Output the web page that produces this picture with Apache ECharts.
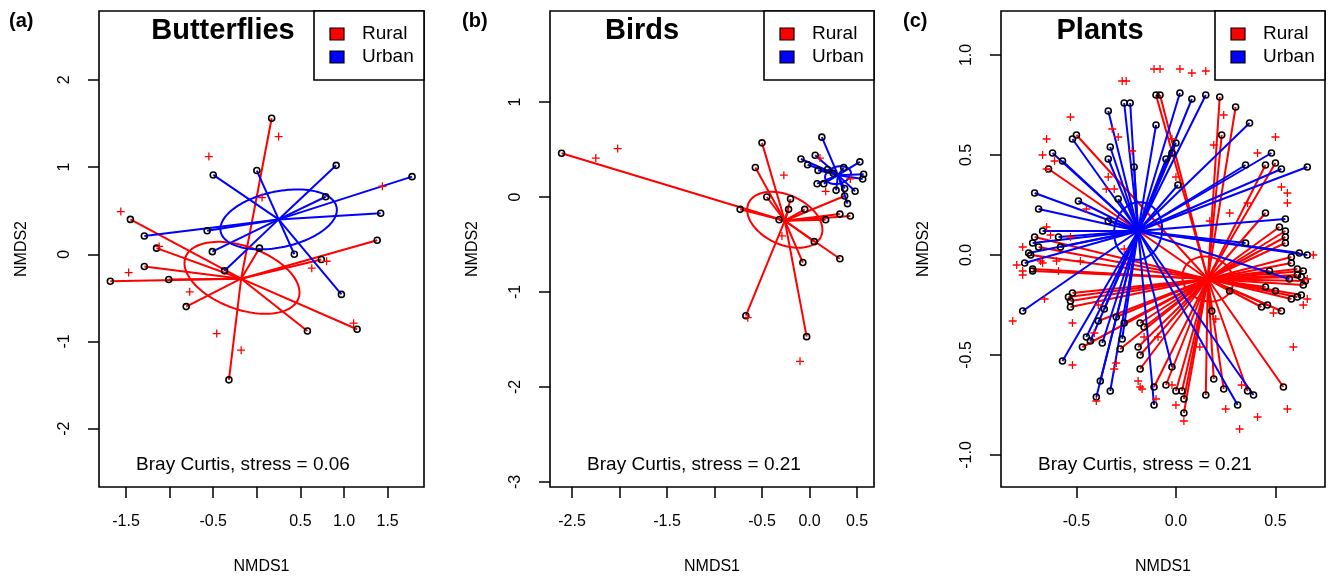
<!DOCTYPE html>
<html>
<head>
<meta charset="utf-8">
<script src="https://cdn.jsdelivr.net/npm/echarts@6/dist/echarts.min.js"></script>
<style>
  html, body { margin: 0; padding: 0; background: #fff; }
  #chart { width: 1329px; height: 579px; }
</style>
</head>
<body>
<div id="chart"></div>
<script>
// ---- (a) Butterflies ----
const bflyRural = [[0.17, 1.56], [-1.45, 0.40], [-1.15, 0.07], [0.03, 0.07], [1.38, 0.16], [0.74, -0.06],
  [-1.29, -0.14], [-1.68, -0.31], [-1.01, -0.29], [-0.81, -0.60], [0.58, -0.88], [1.15, -0.86], [-0.32, -1.44]];
const bflyUrban = [[-0.50, 0.91], [0.00, 0.96], [0.91, 1.02], [1.78, 0.89], [0.79, 0.66], [1.42, 0.47],
  [-1.29, 0.21], [-0.57, 0.27], [-0.51, 0.03], [0.43, 0.00], [-0.37, -0.19], [0.97, -0.46]];
const bflySpecies = [[0.25, 1.35], [-0.55, 1.12], [-1.56, 0.49], [0.06, 0.65], [1.44, 0.78], [-1.12, 0.09],
  [-1.47, -0.21], [0.80, -0.08], [0.63, -0.16], [-0.77, -0.43], [-0.46, -0.91], [-0.18, -1.10], [1.11, -0.79]];
const bflyCentroids = [[-0.18, -0.28], [0.25, 0.40]];          // rural, urban
const bflyEllipses = [[-0.17, -0.27, 0.69, 0.36, -20], [0.25, 0.40, 0.68, 0.32, 12]]; // cx, cy, a, b, angle
const bflyXTicks = [-1.5, -1, -0.5, 0, 0.5, 1, 1.5];
const bflyXLabels = [-1.5, -0.5, 0.5, 1, 1.5];
const bflyYTicks = [-2, -1, 0, 1, 2];

// ---- (b) Birds ----
const birdRural = [[-2.61, 0.46], [-0.50, 0.57], [-0.57, 0.31], [-0.45, 0.00], [-0.20, -0.02], [-0.73, -0.13],
  [-0.22, -0.13], [-0.05, -0.13], [-0.32, -0.24], [0.17, -0.24], [0.32, -0.18], [0.43, -0.20], [0.37, 0.01],
  [0.05, -0.47], [0.32, -0.65], [-0.07, -0.69], [-0.67, -1.25], [-0.03, -1.47]];
const birdUrban = [[0.13, 0.63], [0.06, 0.44], [-0.09, 0.40], [-0.02, 0.34], [0.09, 0.28], [0.19, 0.29],
  [0.36, 0.31], [0.53, 0.37], [0.57, 0.24], [0.56, 0.19], [0.08, 0.14], [0.15, 0.14], [0.28, 0.07],
  [0.37, 0.09], [0.48, 0.06], [0.40, -0.07], [0.25, 0.25]];
const birdSpecies = [[-2.25, 0.41], [-2.02, 0.51], [-0.27, 0.23], [0.11, 0.41], [0.17, 0.06], [-0.29, -0.41],
  [0.43, 0.19], [-0.65, -1.27], [-0.10, -1.73]];
const birdCentroids = [[-0.26, -0.25], [0.30, 0.23]];
const birdEllipses = [[-0.26, -0.24, 0.42, 0.26, -25], [0.30, 0.23, 0.14, 0.09, 15]];
const birdXTicks = [-2.5, -2, -1.5, -1, -0.5, 0, 0.5];
const birdXLabels = [-2.5, -1.5, -0.5, 0, 0.5];
const birdYTicks = [-3, -2, -1, 0, 1];

// ---- (c) Plants ----
const plantRural = [[-0.10, 0.80], [-0.08, 0.80], [0.22, 0.79], [0.30, 0.74], [0.23, 0.60], [-0.50, 0.60],
  [-0.64, 0.43], [0.50, 0.46], [0.45, 0.45], [0.45, 0.21], [-0.71, 0.09], [-0.69, 0.04], [-0.73, 0.00],
  [-0.72, -0.07], [-0.72, -0.08], [-0.52, -0.19], [-0.54, -0.21], [-0.53, -0.23], [-0.53, -0.26],
  [-0.39, -0.33], [-0.30, -0.31], [-0.26, -0.34], [-0.47, -0.46], [-0.28, -0.47], [-0.18, -0.34],
  [-0.16, -0.36], [-0.19, -0.46], [-0.18, -0.50], [-0.18, -0.57], [-0.11, -0.66], [-0.05, -0.65],
  [0.00, -0.68], [0.03, -0.68], [0.04, -0.72], [0.04, -0.79], [0.15, -0.70], [0.19, -0.62], [0.24, -0.67],
  [0.36, -0.68], [0.54, -0.66], [0.18, -0.28], [0.27, -0.18], [0.52, 0.14], [0.55, 0.12], [0.55, 0.09],
  [0.55, 0.06], [0.58, -0.01], [0.58, -0.04], [0.47, -0.08], [0.61, -0.07], [0.64, -0.08], [0.61, -0.10],
  [0.63, -0.11], [0.65, -0.13], [0.64, -0.15], [0.45, -0.16], [0.50, -0.18], [0.63, -0.20], [0.61, -0.21],
  [0.58, -0.22], [0.43, -0.26], [0.46, -0.25], [0.53, -0.28]];
const plantUrban = [[0.02, 0.81], [0.08, 0.78], [0.15, 0.80], [-0.26, 0.76], [-0.23, 0.76], [-0.34, 0.72],
  [-0.10, 0.65], [0.37, 0.66], [-0.52, 0.58], [-0.62, 0.51], [-0.57, 0.47], [0.48, 0.51], [0.35, 0.45],
  [0.53, 0.43], [0.66, 0.44], [0.55, 0.18], [-0.71, 0.31], [-0.69, 0.23], [-0.49, 0.27], [-0.29, 0.28],
  [0.01, 0.35], [-0.33, 0.54], [-0.34, 0.48], [-0.21, 0.44], [-0.05, 0.48], [0.00, 0.56], [-0.02, 0.51],
  [-0.34, 0.17], [-0.67, 0.12], [-0.59, 0.09], [-0.72, 0.06], [-0.74, 0.01], [-0.76, -0.04], [-0.58, 0.04],
  [-0.77, -0.28], [-0.36, -0.27], [-0.45, -0.41], [-0.43, -0.43], [-0.37, -0.44], [-0.27, -0.42],
  [-0.57, -0.53], [-0.38, -0.63], [-0.40, -0.71], [-0.33, -0.68], [-0.11, -0.75], [-0.02, -0.56],
  [0.31, -0.75], [0.39, -0.70], [0.35, 0.06], [0.62, 0.01], [0.66, 0.00], [0.57, -0.12]];
const plantSpecies = [[-0.11, 0.93], [-0.08, 0.93], [0.02, 0.93], [0.08, 0.91], [0.15, 0.92], [-0.27, 0.87],
  [-0.25, 0.87], [-0.53, 0.69], [0.24, 0.70], [0.50, 0.59], [-0.65, 0.58], [-0.32, 0.63], [-0.29, 0.59],
  [-0.02, 0.58], [0.19, 0.55], [0.41, 0.51], [-0.67, 0.50], [-0.65, 0.43], [-0.61, 0.47], [-0.22, 0.52],
  [0.00, 0.39], [-0.34, 0.39], [-0.35, 0.33], [-0.31, 0.33], [0.53, 0.34], [0.56, 0.31], [0.56, 0.26],
  [0.36, 0.26], [0.27, 0.21], [0.17, 0.17], [-0.45, 0.23], [-0.65, 0.14], [-0.63, 0.10], [-0.77, 0.04],
  [-0.80, -0.05], [-0.77, -0.08], [-0.77, -0.10], [-0.68, -0.03], [-0.67, -0.04], [-0.60, -0.03],
  [-0.48, -0.03], [-0.59, -0.08], [-0.66, -0.22], [-0.82, -0.33], [-0.52, -0.34], [-0.41, -0.39],
  [-0.39, -0.25], [-0.26, 0.03], [-0.53, 0.09], [-0.52, -0.55], [-0.30, -0.54], [-0.31, -0.57],
  [-0.16, -0.41], [-0.09, -0.41], [-0.19, -0.63], [-0.18, -0.66], [-0.17, -0.67], [-0.10, -0.72],
  [-0.40, -0.73], [-0.02, -0.65], [0.00, -0.75], [0.04, -0.83], [0.12, -0.46], [0.20, -0.32], [0.25, -0.77],
  [0.32, -0.87], [0.33, -0.65], [0.41, -0.81], [0.56, -0.77], [0.59, -0.46], [0.49, -0.29], [0.64, -0.25],
  [0.66, -0.22], [0.66, -0.12], [0.69, 0.00]];
const plantCentroids = [[0.16, -0.12], [-0.19, 0.12]];
const plantEllipses = [[0.16, -0.12, 0.13, 0.11, -20], [-0.19, 0.12, 0.145, 0.12, 80]];
const plantXTicks = [-0.5, 0, 0.5];
const plantYTicks = [-1, -0.5, 0, 0.5, 1];

const groups = ['Rural', 'Urban'];
const groupColors = ['#ff0000', '#0000ff'];
const FONT = '"Liberation Sans", Arial, Helvetica, sans-serif';

const fmt1 = v => v.toFixed(1);
const fmt0 = v => v.toFixed(0);

// plot boxes (pixel) and the data range they cover
const panels = [
  { letter: '(a)', title: 'Butterflies', stress: 'Bray Curtis, stress = 0.06', left: 99, top: 11, w: 325, h: 476,
    x: [-1.81, 1.917], y: [-2.669, 2.79], titleX: 223, letterX: 9,
    rural: bflyRural, urban: bflyUrban, species: bflySpecies, cent: bflyCentroids, ell: bflyEllipses,
    xTicks: bflyXTicks, xLabels: bflyXLabels, xFmt: fmt1, yTicks: bflyYTicks, yLabels: bflyYTicks, yFmt: fmt0 },
  { letter: '(b)', title: 'Birds', stress: 'Bray Curtis, stress = 0.21', left: 550, top: 11, w: 324, h: 476,
    x: [-2.732, 0.679], y: [-3.053, 1.958], titleX: 642, letterX: 462,
    rural: birdRural, urban: birdUrban, species: birdSpecies, cent: birdCentroids, ell: birdEllipses,
    xTicks: birdXTicks, xLabels: birdXLabels, xFmt: fmt1, yTicks: birdYTicks, yLabels: birdYTicks, yFmt: fmt0 },
  { letter: '(c)', title: 'Plants', stress: 'Bray Curtis, stress = 0.21', left: 1001, top: 11, w: 324, h: 476,
    x: [-0.879, 0.749], y: [-1.16, 1.22], titleX: 1100, letterX: 903,
    rural: plantRural, urban: plantUrban, species: plantSpecies, cent: plantCentroids, ell: plantEllipses,
    xTicks: plantXTicks, xLabels: plantXTicks, xFmt: fmt1, yTicks: plantYTicks, yLabels: plantYTicks, yFmt: fmt1 }
];

function ellipsePath(e) {
  const [cx, cy, a, b, deg] = e;
  const th = deg * Math.PI / 180;
  const pts = [];
  for (let k = 0; k <= 120; k++) {
    const t = 2 * Math.PI * k / 120;
    pts.push([cx + a * Math.cos(t) * Math.cos(th) - b * Math.sin(t) * Math.sin(th),
              cy + a * Math.cos(t) * Math.sin(th) + b * Math.sin(t) * Math.cos(th)]);
  }
  return pts;
}

const crossPath = 'path://M4.2,0H5.8V4.2H10V5.8H5.8V10H4.2V5.8H0V4.2H4.2Z';
const textStyle = { fontFamily: FONT, color: '#000' };

const grid = [], xAxis = [], yAxis = [], series = [], graphic = [];

panels.forEach((p, i) => {
  grid.push({ left: p.left, top: p.top, width: p.w, height: p.h, show: true,
    outerBoundsMode: 'none', containLabel: false,
    borderColor: '#000', borderWidth: 1.6, backgroundColor: 'transparent' });

  xAxis.push({
    gridIndex: i, type: 'value', min: p.x[0], max: p.x[1], position: 'bottom',
    name: 'NMDS1', nameLocation: 'middle', nameGap: 72,
    nameTextStyle: Object.assign({ fontSize: 16 }, textStyle),
    axisLine: { show: false, onZero: false },
    axisTick: { show: true, inside: false, length: 11, customValues: p.xTicks, lineStyle: { color: '#000', width: 1.5 } },
    axisLabel: Object.assign({ customValues: p.xLabels, formatter: p.xFmt, margin: 27, fontSize: 16 }, textStyle),
    splitLine: { show: false }
  });
  yAxis.push({
    gridIndex: i, type: 'value', min: p.y[0], max: p.y[1], position: 'left',
    name: 'NMDS2', nameLocation: 'middle', nameGap: 69, nameRotate: 90,
    nameTextStyle: Object.assign({ fontSize: 16 }, textStyle),
    axisLine: { show: false, onZero: false },
    axisTick: { show: true, inside: false, length: 11, customValues: p.yTicks, lineStyle: { color: '#000', width: 1.5 } },
    axisLabel: Object.assign({ customValues: p.yLabels, formatter: p.yFmt, rotate: 90, margin: 26, fontSize: 16 }, textStyle),
    splitLine: { show: false }
  });

  [p.rural, p.urban].forEach((pts, g) => {
    series.push({
      type: 'lines', coordinateSystem: 'cartesian2d', xAxisIndex: i, yAxisIndex: i, silent: true, z: 2,
      lineStyle: { color: groupColors[g], width: 2, opacity: 1, curveness: 0 },
      data: pts.map(pt => ({ coords: [p.cent[g], pt] }))
    });
    series.push({
      type: 'line', xAxisIndex: i, yAxisIndex: i, silent: true, z: 3,
      showSymbol: false, symbol: 'none', smooth: false,
      lineStyle: { color: groupColors[g], width: 2 },
      data: ellipsePath(p.ell[g])
    });
  });

  series.push({
    type: 'scatter', xAxisIndex: i, yAxisIndex: i, silent: true, z: 4,
    symbol: 'circle', symbolSize: 6,
    itemStyle: { color: 'rgba(0,0,0,0)', borderColor: '#000', borderWidth: 1.6, opacity: 1 },
    data: p.rural.concat(p.urban)
  });
  series.push({
    type: 'scatter', xAxisIndex: i, yAxisIndex: i, silent: true, z: 5,
    symbol: crossPath, symbolSize: 8,
    itemStyle: { color: '#ff0000', opacity: 1 },
    data: p.species
  });

  // panel decorations: letter, title, stress note, legend
  const right = p.left + p.w;
  graphic.push(
    { type: 'text', x: p.letterX, y: 21, z: 100,
      style: { text: p.letter, font: 'bold 20px ' + FONT, fill: '#000', textAlign: 'left', textVerticalAlign: 'middle' } },
    { type: 'text', x: p.titleX, y: 31, z: 100,
      style: { text: p.title, font: 'bold 29px ' + FONT, fill: '#000', textAlign: 'center', textVerticalAlign: 'middle' } },
    { type: 'text', x: p.left + 144, y: 465, z: 100,
      style: { text: p.stress, font: '19px ' + FONT, fill: '#000', textAlign: 'center', textVerticalAlign: 'middle' } },
    { type: 'rect', z: 100, shape: { x: right - 110, y: p.top, width: 110, height: 69 },
      style: { fill: '#fff', stroke: '#000', lineWidth: 1.6 } }
  );
  groups.forEach((name, g) => {
    const cy = p.top + 23 + g * 23;
    graphic.push(
      { type: 'rect', z: 101, shape: { x: right - 94, y: cy - 6, width: 14, height: 12 },
        style: { fill: groupColors[g], stroke: '#000', lineWidth: 1.2 } },
      { type: 'text', x: right - 62, y: cy, z: 101,
        style: { text: name, font: '19px ' + FONT, fill: '#000', textAlign: 'left', textVerticalAlign: 'middle' } }
    );
  });
});

const myChart = echarts.init(document.getElementById('chart'));
myChart.setOption({
  animation: false,
  backgroundColor: '#fff',
  grid: grid,
  xAxis: xAxis,
  yAxis: yAxis,
  series: series,
  graphic: graphic
});
</script>
</body>
</html>
